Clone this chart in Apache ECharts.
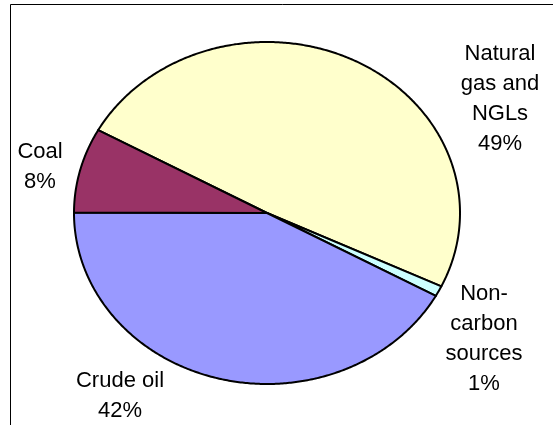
<!DOCTYPE html>
<html>
<head>
<meta charset="utf-8">
<script src="https://cdn.jsdelivr.net/npm/echarts@6/dist/echarts.min.js"></script>
<style>
  html, body { margin: 0; padding: 0; background: #fff; }
  #chart { width: 553px; height: 425px; }
</style>
</head>
<body>
<div id="chart"></div>
<script>
const categories = ['Natural gas and NGLs', 'Non-carbon sources', 'Crude oil', 'Coal']
const labelLines = ['Natural\ngas and\nNGLs', 'Non-\ncarbon\nsources', 'Crude oil', 'Coal']
const shares = [49, 1, 42, 8]
const colors = ['#FFFFCC', '#CCFFFF', '#9999FF', '#993366']

// the source pie is stretched into an ellipse, so draw it as one
const center = [267, 213]
const radii = [193, 171]
const startAngle = 151 // degrees, slices go clockwise
const labelPos = [[500, 99], [484, 339], [120, 396], [40, 167]]

const total = shares.reduce((a, b) => a + b, 0)

function renderSlice(params, api) {
  const i = params.dataIndex
  let before = 0
  for (let k = 0; k < i; k++) before += shares[k]
  const a0 = startAngle - before / total * 360
  const a1 = a0 - api.value(1) / total * 360
  const steps = Math.max(4, Math.ceil((a0 - a1) * 2))
  const pts = [center.slice()]
  for (let s = 0; s <= steps; s++) {
    const t = (a0 + (a1 - a0) * s / steps) * Math.PI / 180
    pts.push([center[0] + radii[0] * Math.cos(t), center[1] - radii[1] * Math.sin(t)])
  }
  return {
    type: 'group',
    children: [
      {
        type: 'polygon',
        shape: { points: pts },
        style: { fill: colors[i], stroke: '#000', lineWidth: 2, lineJoin: 'round' }
      },
      {
        type: 'text',
        x: labelPos[i][0],
        y: labelPos[i][1],
        style: {
          text: labelLines[i] + '\n' + api.value(1) + '%',
          fill: '#000',
          fontSize: 22,
          fontFamily: '"Liberation Sans", Arial, sans-serif',
          lineHeight: 30,
          align: 'center',
          verticalAlign: 'middle'
        }
      }
    ]
  }
}

const chart = echarts.init(document.getElementById('chart'))
chart.setOption({
  animation: false,
  backgroundColor: '#fff',
  graphic: [{
    type: 'rect',
    shape: { x: 10.5, y: 4.5, width: 700, height: 600 },
    style: { fill: 'none', stroke: '#000', lineWidth: 1 },
    silent: true
  }],
  series: [{
    type: 'custom',
    coordinateSystem: 'none',
    renderItem: renderSlice,
    data: shares.map((v, i) => ({ name: categories[i], value: [i, v] }))
  }]
})
</script>
</body>
</html>
